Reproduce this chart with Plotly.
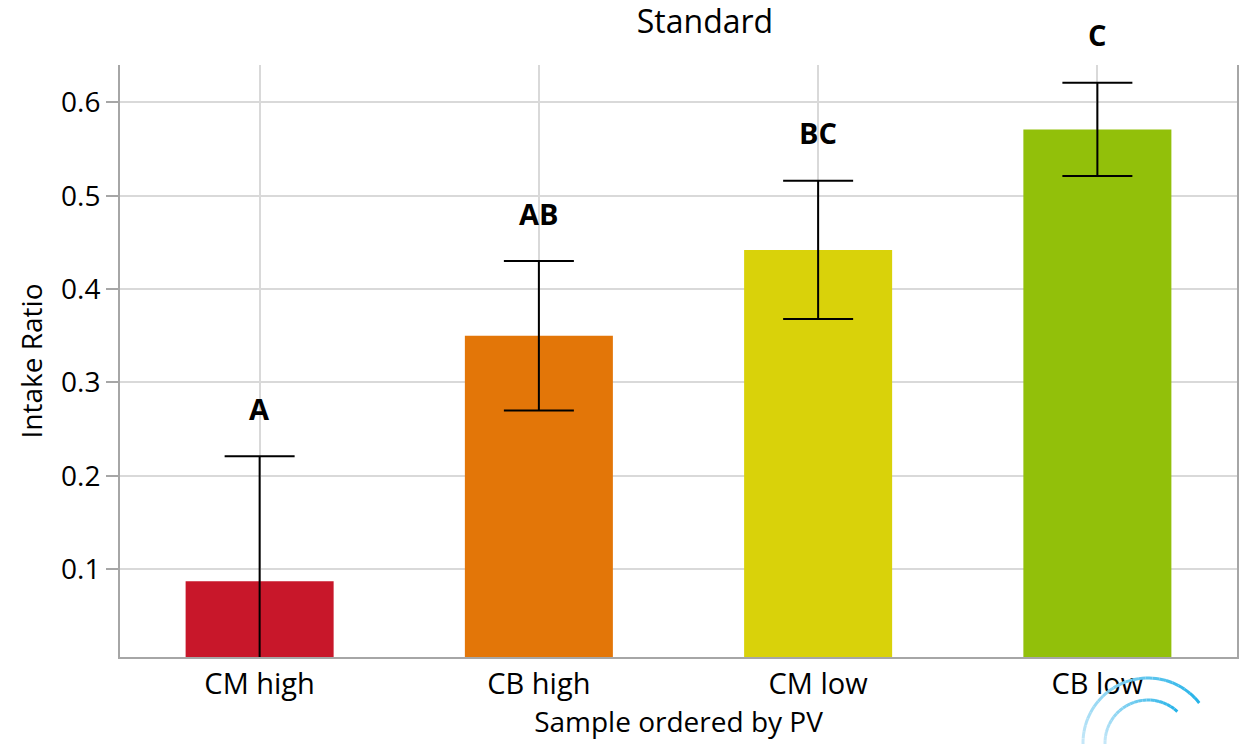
import math
import plotly.graph_objects as go

# Intake ratio by sample, ordered by PV
samples = ["CM high", "CB high", "CM low", "CB low"]
intake_ratio = [0.087, 0.350, 0.442, 0.571]
error = [0.134, 0.080, 0.074, 0.050]
groups = ["A", "AB", "BC", "C"]
bar_colors = ["#C8172A", "#E37608", "#D9D20A", "#92C00A"]

FONT = "Open Sans, Noto Sans, sans-serif"

fig = go.Figure(
    go.Bar(
        x=samples,
        y=intake_ratio,
        marker=dict(color=bar_colors, line=dict(width=0)),
        width=0.53,
        error_y=dict(type="data", array=error, color="#000000",
                     thickness=2, width=35),
    )
)

# significance group letters above each error bar
for s, v, e, g in zip(samples, intake_ratio, error, groups):
    fig.add_annotation(x=s, y=v + e, text=f"<b>{g}</b>", showarrow=False,
                       yanchor="middle", yshift=48,
                       font=dict(family=FONT, size=29, color="#000000"))


# decorative arcs in the lower-right corner, fading from pale to bright blue
def to_paper(px, py):
    return (px - 120) / 1117, (657 - py) / 592


def arc_segments(cx, cy, r, a0, a1, n=24):
    segs = []
    for i in range(n):
        t0, t1 = i / n, (i + 1) / n
        pts = []
        for t in (t0, (t0 + t1) / 2, t1):
            a = math.radians(a0 + (a1 - a0) * t)
            pts.append(to_paper(cx + r * math.cos(a), cy - r * math.sin(a)))
        path = "M " + " L ".join(f"{x:.5f},{y:.5f}" for x, y in pts)
        tm = (t0 + t1) / 2
        c0, c1 = (200, 232, 248), (35, 178, 232)
        col = tuple(round(c0[k] + (c1[k] - c0[k]) * tm) for k in range(3))
        segs.append((path, f"rgb{col}"))
    return segs


for r, a1 in [(65, 38), (43, 47)]:
    for path, col in arc_segments(1148, 743, r, 182, a1):
        fig.add_shape(type="path", xref="paper", yref="paper", path=path,
                      line=dict(color=col, width=3), layer="above")

fig.update_layout(
    width=1251, height=744,
    margin=dict(l=120, r=14, t=65, b=87),
    paper_bgcolor="white", plot_bgcolor="white",
    showlegend=False,
    font=dict(family=FONT, color="#000000"),
    title=dict(text="Standard", x=705 / 1251, xanchor="center",
               y=1 - 22 / 744, yanchor="middle",
               font=dict(family=FONT, size=32, color="#000000")),
    xaxis=dict(
        title=dict(text="Sample ordered by PV", standoff=6,
                   font=dict(family=FONT, size=28)),
        range=[-0.5, 3.5],
        showgrid=True, gridcolor="#d9d9d9", gridwidth=2,
        showline=True, linecolor="#a6a6a6", linewidth=2,
        ticks="", tickfont=dict(family=FONT, size=29),
    ),
    yaxis=dict(
        title=dict(text="Intake Ratio", standoff=10,
                   font=dict(family=FONT, size=28)),
        range=[0.006, 0.64],
        tickvals=[0.1, 0.2, 0.3, 0.4, 0.5, 0.6],
        ticktext=["0.1", "0.2", "0.3", "0.4", "0.5", "0.6"],
        showgrid=True, gridcolor="#d9d9d9", gridwidth=2,
        showline=True, linecolor="#a6a6a6", linewidth=2, mirror=True,
        ticks="outside", ticklen=12, tickcolor="#a6a6a6", tickwidth=2,
        tickfont=dict(family=FONT, size=28),
        zeroline=False,
    ),
)

fig.write_html("out.html")
